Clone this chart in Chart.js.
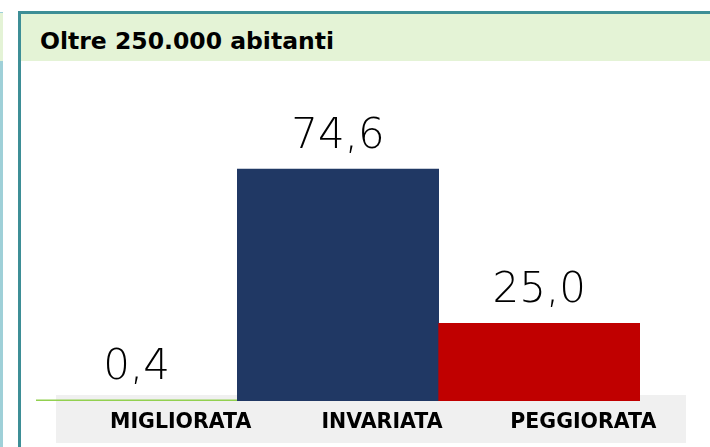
<!DOCTYPE html>
<html><head><meta charset="utf-8">
<script src="https://cdn.jsdelivr.net/npm/chart.js@4/dist/chart.umd.min.js"></script>
<style>
html,body{margin:0;padding:0;width:710px;height:447px;overflow:hidden;background:#fff;}
#wrap{position:relative;width:710px;height:447px;}
.abs{position:absolute;}
#leftEdge{left:0;top:12px;width:3px;height:435px;background:#9fd0d8;}
#leftEdgeTop{left:0;top:12px;width:3px;height:48px;background:#e4f3d6;border-top:1px solid #9fd0d8;}
#frameLeft{left:18px;top:11px;width:3px;height:436px;background:#3d8e96;}
#frameTop{left:18px;top:11px;width:692px;height:3px;background:#3d8e96;}
#titleBand{left:21px;top:14px;width:689px;height:47px;background:#e4f3d6;}
#title{left:40px;top:28px;font-family:"DejaVu Sans",sans-serif;font-weight:bold;font-size:23.5px;color:#000;line-height:26px;white-space:nowrap;}
#axisBand{left:56px;top:395px;width:630px;height:48px;background:#f0f0f0;}
canvas{position:absolute;left:0;top:0;}
</style></head>
<body><div id="wrap">
<div class="abs" id="leftEdge"></div>
<div class="abs" id="leftEdgeTop"></div>
<div class="abs" id="frameLeft"></div>
<div class="abs" id="frameTop"></div>
<div class="abs" id="titleBand"></div>
<div class="abs" id="title">Oltre 250.000 abitanti</div>
<div class="abs" id="axisBand"></div>
<canvas id="c" width="710" height="447"></canvas>
</div>
<script>
const categories = ["MIGLIORATA", "INVARIATA", "PEGGIORATA"];
const values = [0.4, 74.6, 25.0];
const valueLabels = ["0,4", "74,6", "25,0"];
const barColors = ["#92d050", "#203864", "#c00000"];

const valueLabelPlugin = {
  id: 'valueLabels',
  afterDatasetsDraw(chart) {
    const ctx = chart.ctx;
    const meta = chart.getDatasetMeta(0);
    ctx.save();
    ctx.font = '200 42px "DejaVu Sans"';
    ctx.fillStyle = '#000';
    ctx.textAlign = 'center';
    ctx.textBaseline = 'alphabetic';
    meta.data.forEach((bar, i) => {
      ctx.fillText(valueLabels[i], bar.x, bar.y - 21);
    });
    ctx.restore();
  }
};

new Chart(document.getElementById('c'), {
  type: 'bar',
  data: {
    labels: categories,
    datasets: [{
      data: values,
      backgroundColor: barColors,
      borderWidth: 0,
      barPercentage: 1,
      categoryPercentage: 1
    }]
  },
  options: {
    responsive: false,
    animation: false,
    layout: { padding: { left: 36, right: 70, top: 90, bottom: 0 } },
    plugins: { legend: { display: false }, tooltip: { enabled: false } },
    scales: {
      y: { display: false, min: 0, max: 100 },
      x: {
        grid: { display: false },
        border: { display: false },
        ticks: {
          color: '#000',
          font: { family: '"DejaVu Sans"', weight: 'bold', size: 20.5 },
          padding: 1,
          labelOffset: 44,
          maxRotation: 0
        },
        afterFit(scale) { scale.height = 46; }
      }
    }
  },
  plugins: [valueLabelPlugin]
});
</script>
</body></html>
